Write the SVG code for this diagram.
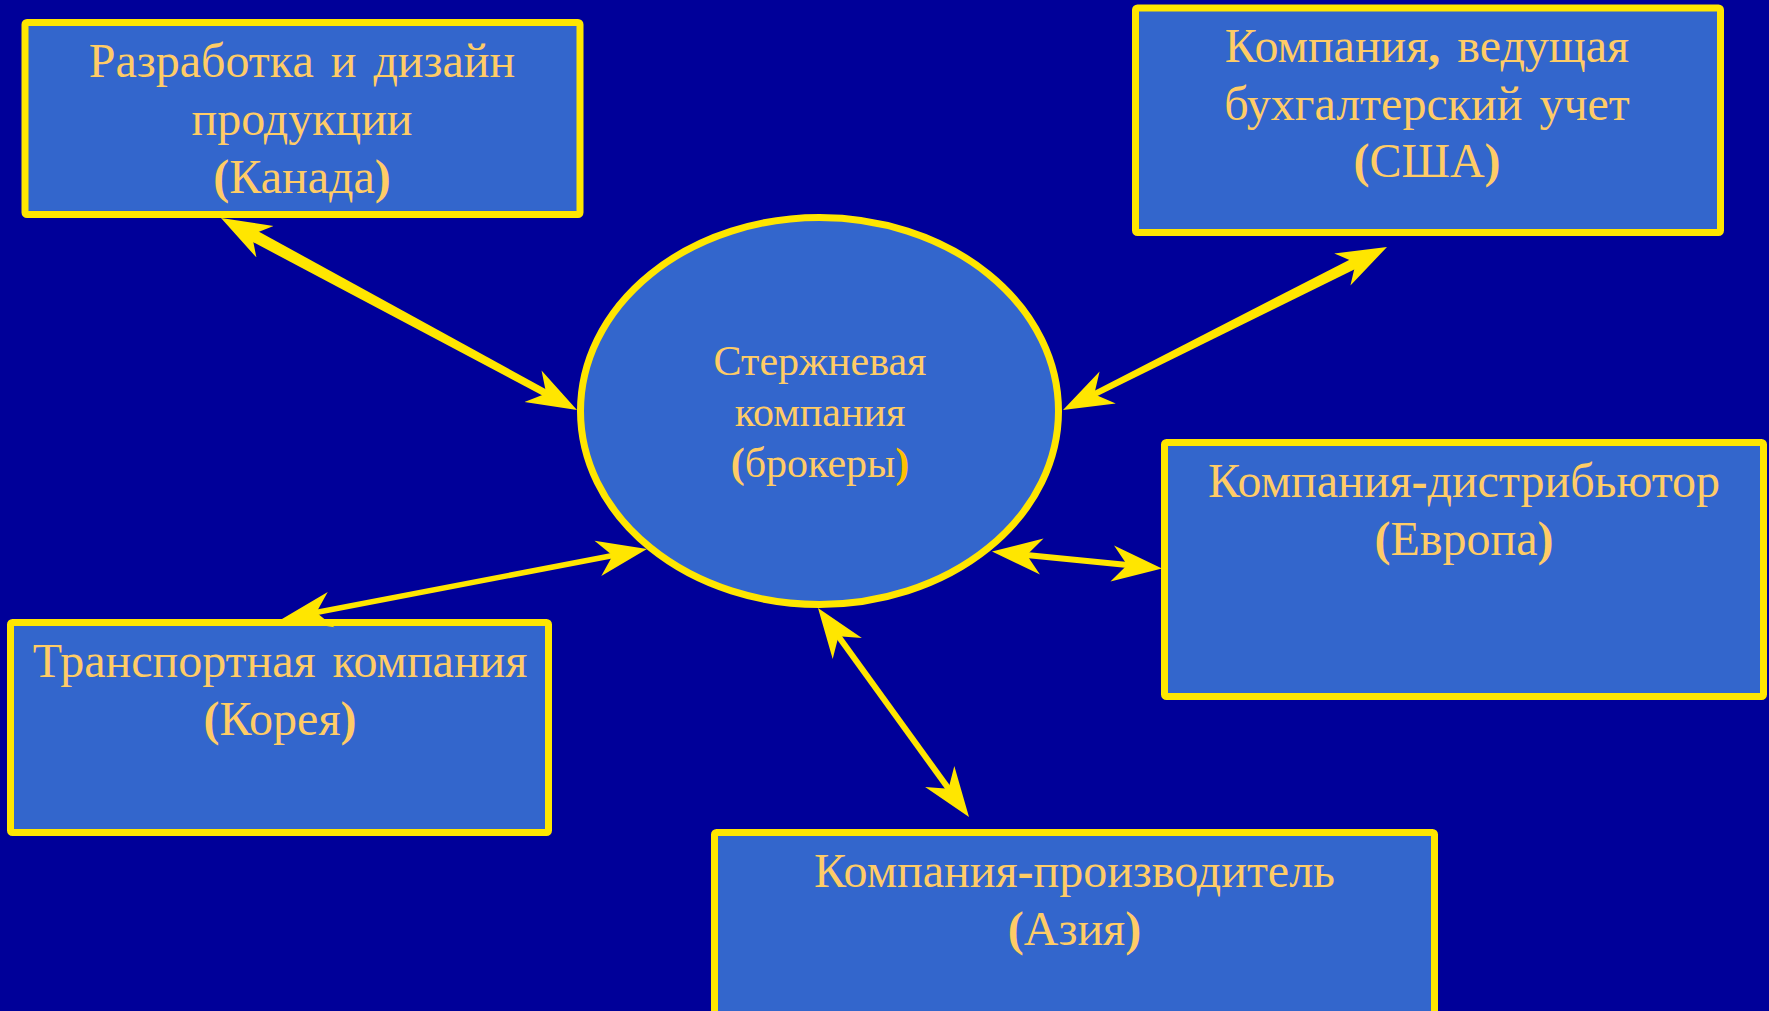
<svg xmlns="http://www.w3.org/2000/svg" width="1769" height="1011" viewBox="0 0 1769 1011">
  <style>
    .box { fill: #3366CC; stroke: #FFE600; stroke-width: 7; stroke-linejoin: round; }
    .lbl { font-family: "Liberation Serif", "Times New Roman", serif; font-size: 48px; fill: #FFCC66; text-anchor: middle; word-spacing: 5px; }
    .core { font-size: 42px; }
    .b { font-weight: bold; }
    .shaft { fill: #FFE600; stroke: none; }
    .conn { fill: none; stroke: #FFE600; marker-start: url(#head); marker-end: url(#head); }
  </style>
  <defs>
    <!-- stealth-style head; refX sits a little past the notch so the shaft tucks in -->
    <marker id="head" markerUnits="userSpaceOnUse" markerWidth="52" markerHeight="40" viewBox="0 -20 52 40" refX="18" refY="0" orient="auto-start-reverse">
      <path d="M50,0 L0,-18 L15,0 L0,18 Z" fill="#FFE600"/>
    </marker>
  </defs>

  <rect width="1769" height="1011" fill="#000099"/>

  <g id="node-design">
    <rect class="box" x="25" y="22.5" width="555" height="192" rx="2"/>
    <text class="lbl" x="302" y="77">Разработка и дизайн</text>
    <text class="lbl" x="302" y="135">продукции</text>
    <text class="lbl" x="302" y="193"><tspan class="b">(</tspan>Канада<tspan class="b">)</tspan></text>
  </g>

  <g id="node-accounting">
    <rect class="box" x="1135.5" y="8" width="585" height="224.5" rx="2"/>
    <text class="lbl" x="1427" y="62">Компания<tspan class="b">,</tspan> ведущая</text>
    <text class="lbl" x="1427" y="120">бухгалтерский учет</text>
    <text class="lbl" x="1427" y="177"><tspan class="b">(</tspan>США<tspan class="b">)</tspan></text>
  </g>

  <g id="node-distributor">
    <rect class="box" x="1164.5" y="442.5" width="599" height="254" rx="2"/>
    <text class="lbl" x="1464" y="497">Компания<tspan class="b">-</tspan>дистрибьютор</text>
    <text class="lbl" x="1464" y="555"><tspan class="b">(</tspan>Европа<tspan class="b">)</tspan></text>
  </g>

  <g id="node-transport">
    <rect class="box" x="10.5" y="622.5" width="538" height="210" rx="2"/>
    <text class="lbl" x="280" y="677">Транспортная компания</text>
    <text class="lbl" x="280" y="735"><tspan class="b">(</tspan>Корея<tspan class="b">)</tspan></text>
  </g>

  <g id="node-manufacturer">
    <rect class="box" x="714.5" y="832.5" width="720" height="200" rx="2"/>
    <text class="lbl" x="1074.5" y="887">Компания<tspan class="b">-</tspan>производитель</text>
    <text class="lbl" x="1074.5" y="945"><tspan class="b">(</tspan>Азия<tspan class="b">)</tspan></text>
  </g>

  <g id="node-core">
    <ellipse class="box" cx="819.5" cy="411" rx="239" ry="193.5"/>
    <text class="lbl core" x="820" y="375">Стержневая</text>
    <text class="lbl core" x="820" y="426">компания</text>
    <text class="lbl core" x="820" y="477"><tspan class="b">(</tspan>брокеры<tspan class="b" fill="#FFC000">)</tspan></text>
  </g>

  <g id="connectors">
    <!-- design <-> core (tapered shaft) -->
    <polygon class="shaft" points="246.3,238.5 547.2,397.9 550.5,391.7 252.0,227.9"/>
    <path class="conn" stroke="none" d="M249.16,233.19 L548.84,394.81"/>
    <!-- accounting <-> core (tapered shaft) -->
    <polygon class="shaft" points="1355.9,256.4 1090.2,392.9 1092.9,398.3 1360.9,266.3"/>
    <path class="conn" stroke="none" d="M1358.41,261.38 L1091.59,395.62"/>
    <!-- transport <-> core -->
    <path class="conn" stroke-width="5.5" d="M313.43,612.97 L615.57,555.03"/>
    <!-- core <-> distributor -->
    <path class="conn" stroke-width="6" d="M1023.84,554.68 L1130.16,565.32"/>
    <!-- core <-> manufacturer -->
    <path class="conn" stroke-width="6" d="M836.74,633.94 L950.26,791.06"/>
  </g>
</svg>
